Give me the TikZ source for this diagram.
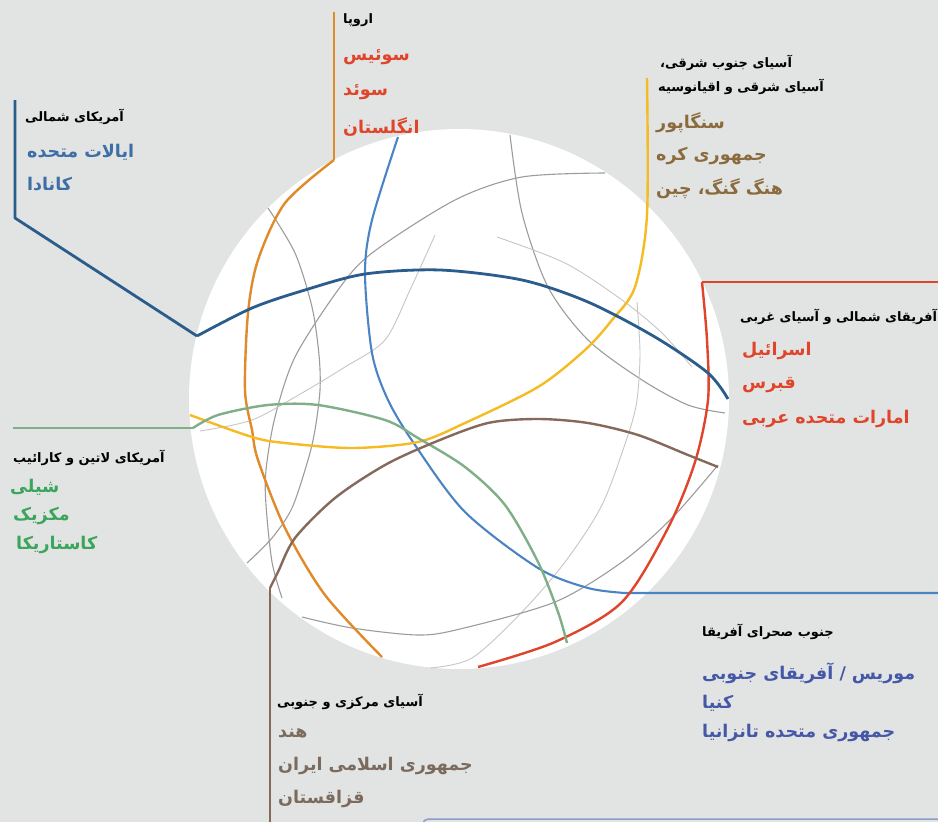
\documentclass[tikz,border=0pt]{standalone}
\usepackage{fontspec}
\newfontfamily\arabicfont[Script=Arabic]{DejaVu Sans}
\TeXXeTstate=1
\definecolor{bggray}{HTML}{E2E4E3}
\definecolor{arcgray}{HTML}{9C9C9C}
\definecolor{arclight}{HTML}{C6C6C6}
\definecolor{nablue}{HTML}{2B5D8C}
\definecolor{natext}{HTML}{3D6EA5}
\definecolor{euorange}{HTML}{E08A2A}
\definecolor{eured}{HTML}{E0452B}
\definecolor{afblue}{HTML}{4B84C4}
\definecolor{aftext}{HTML}{4558A8}
\definecolor{seayellow}{HTML}{F4BB22}
\definecolor{seatext}{HTML}{8B6B3D}
\definecolor{lagreen}{HTML}{7FAE88}
\definecolor{latext}{HTML}{3BA55C}
\definecolor{csbrown}{HTML}{85695A}
\definecolor{cstext}{HTML}{7B6A5E}
\definecolor{boxline}{HTML}{8F9BC8}
\tikzset{
  head/.style={anchor=west,inner sep=0pt,font=\arabicfont\bfseries\fontsize{13}{15}\selectfont},
  item/.style={anchor=west,inner sep=0pt,font=\arabicfont\bfseries\fontsize{17.5}{20}\selectfont},
  wire/.style={line width=2.4pt,line join=round},
  grayarc/.style={line width=1.1pt,draw=arcgray},
  lightarc/.style={line width=0.9pt,draw=arclight},
}
\begin{document}
\begin{tikzpicture}[x=1pt,y=-1pt]
\fill[bggray] (0,0) rectangle (938,822);
\useasboundingbox (0,0) rectangle (938,822);
\fill[white] (459,399) circle (270pt);
\draw[boxline,line width=1.5pt,rounded corners=5pt] (423,830) -- (423,819) -- (945,819);

% thin arcs
\draw[grayarc] plot[smooth] coordinates {(268,208) (295,253) (312,307) (319,355) (320,390) (315,430) (308,460) (292,508) (272,538) (247,563)};
\draw[grayarc] plot[smooth] coordinates {(605,173) (522,177) (455,200) (372,253) (338,290) (295,357) (275,417) (266,470) (266,505) (272,562) (282,598)};
\draw[lightarc] plot[smooth] coordinates {(435,235) (410,290) (385,340) (345,367) (302,393) (252,420) (200,431)};
\draw[grayarc] plot[smooth] coordinates {(510,135) (522,213) (548,287) (588,340) (642,380) (688,405) (725,413)};
\draw[lightarc] plot[smooth] coordinates {(497,237) (565,263) (622,300) (662,333) (692,367)};
\draw[lightarc] plot[smooth] coordinates {(637,302) (640,353) (637,400) (628,435) (602,505) (565,562) (522,612) (472,658) (430,668)};
\draw[grayarc] plot[smooth] coordinates {(302,617) (352,628) (418,635) (460,629) (555,602) (622,562) (672,518) (718,465)};

% region lines
\draw[wire,euorange] (334,12) -- (334,160);
\draw[wire,euorange] plot[smooth] coordinates {(334,160) (285,203) (258,260) (248,313) (245,390) (252,430) (258,460) (285,528) (325,595) (382,657)};
\draw[wire,afblue,line width=2.1pt] plot[smooth] coordinates {(398,137) (372,220) (365,273) (372,353) (388,400) (415,445) (465,512) (538,568) (588,588) (625,593)} -- (938,593);
\draw[wire,seayellow] plot[smooth] coordinates {(647,78) (647,215) (635,287) (612,320) (585,350) (538,387) (465,423) (418,442) (352,448) (285,443) (252,437) (190,415)};
\draw[wire,eured] (938,282) -- (702,282);
\draw[wire,eured] plot[smooth] coordinates {(702,282) (707,340) (708,400) (695,462) (668,528) (622,602) (555,642) (478,667)};
\draw[wire,lagreen] (13,428) -- (193,428);
\draw[wire,lagreen] plot[smooth] coordinates {(193,428) (218,415) (268,405) (318,405) (385,420) (418,438) (465,467) (505,505) (538,562) (558,612) (567,643)};
\draw[wire,csbrown] (270,822) -- (270,588);
\draw[wire,csbrown] plot[smooth] coordinates {(270,588) (278,572) (295,538) (335,498) (385,465) (435,442) (488,423) (538,419) (588,423) (638,435) (688,455) (718,467)};
\draw[wire,nablue,line width=2.8pt] (15,100) -- (15,218) -- (197,336);
\draw[wire,nablue,line width=2.8pt] plot[smooth] coordinates {(197,336) (252,308) (305,290) (365,274) (440,270) (522,280) (588,302) (655,337) (708,373) (728,399)};

% labels
\node[head] (eu) at (343,20) {\beginR اروپا\endR};
\foreach \t [count=\k] in {سوئیس,سوئد,انگلستان}
  \node[item,text=eured] (eu-\k) at (343,22+35*\k) {\beginR\t\endR};

\node[head] (na) at (25,117) {\beginR آمریکای شمالی\endR};
\foreach \t [count=\k] in {ایالات متحده,کانادا}
  \node[item,text=natext] (na-\k) at (27,120+32*\k) {\beginR\t\endR};

\node[head] (sea-a) at (660,63) {\beginR آسیای جنوب شرقی،\endR};
\node[head] (sea-b) at (658,87) {\beginR آسیای شرقی و اقیانوسیه\endR};
\foreach \t [count=\k] in {سنگاپور,جمهوری کره,هنگ گنگ، چین}
  \node[item,text=seatext] (sea-\k) at (656,90+33*\k) {\beginR\t\endR};

\node[head] (naf) at (740,317) {\beginR آفریقای شمالی و آسیای غربی\endR};
\foreach \t [count=\k] in {اسرائیل,قبرس,امارات متحده عربی}
  \node[item,text=eured] (naf-\k) at (742,317+34*\k) {\beginR\t\endR};

\node[head] (la) at (13,458) {\beginR آمریکای لاتین و  کارائیب\endR};
\foreach \t [count=\k] in {شیلی,مکزیک,کاستاریکا}
  \node[item,text=latext] (la-\k) at (7+3*\k,458+29*\k) {\beginR\t\endR};

\node[head] (csa) at (277,702) {\beginR آسیای مرکزی و جنوبی\endR};
\foreach \t [count=\k] in {هند,جمهوری اسلامی ایران,قزاقستان}
  \node[item,text=cstext] (csa-\k) at (278,700+33*\k) {\beginR\t\endR};

\node[head] (ssa) at (702,632) {\beginR جنوب صحرای آفریقا\endR};
\foreach \t [count=\k] in {موریس / آفریقای جنوبی,کنیا,جمهوری متحده تانزانیا}
  \node[item,text=aftext] (ssa-\k) at (702,643+30*\k) {\beginR\t\endR};
\end{tikzpicture}
\end{document}
